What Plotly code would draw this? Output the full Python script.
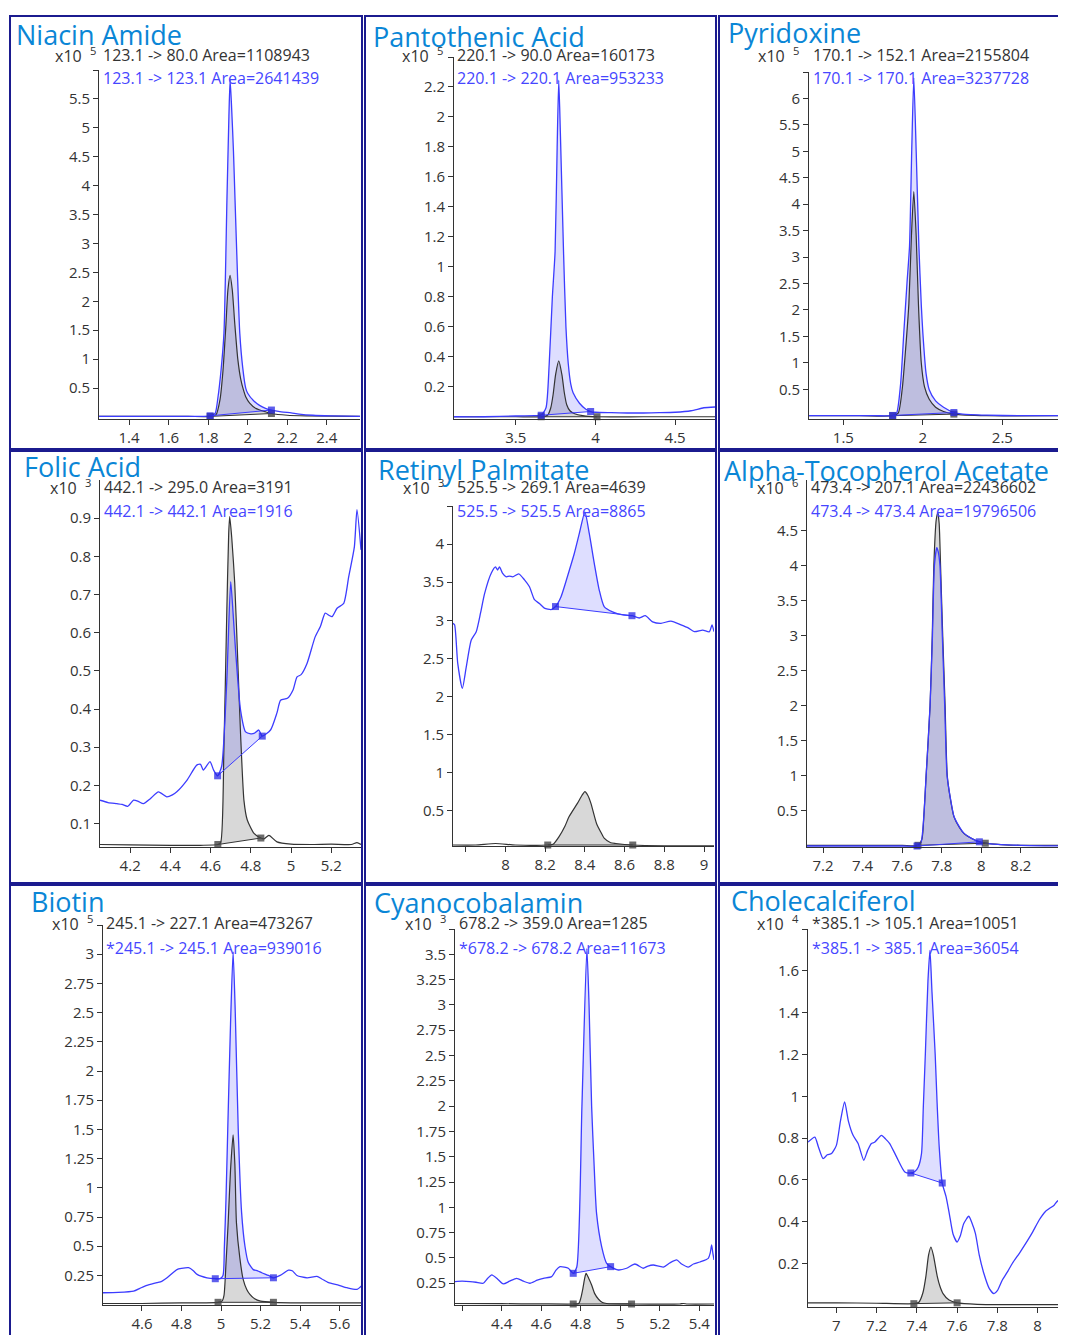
import plotly.graph_objects as go

W, H = 1066, 1335
OFF = 8  # the page body adds an 8px margin; figure is shifted to compensate
FW, FH = W - OFF, H - OFF

# ------------------------------------------------------------------ data
TITLES = ["Niacin Amide", "Pantothenic Acid", "Pyridoxine",
          "Folic Acid", "Retinyl Palmitate", "Alpha-Tocopherol Acetate",
          "Biotin", "Cyanocobalamin", "Cholecalciferol"]
QUAL_LABELS = ["123.1 -> 80.0 Area=1108943", "220.1 -> 90.0 Area=160173",
               "170.1 -> 152.1 Area=2155804", "442.1 -> 295.0 Area=3191",
               "525.5 -> 269.1 Area=4639", "473.4 -> 207.1 Area=22436602",
               "245.1 -> 227.1 Area=473267", "678.2 -> 359.0 Area=1285",
               "*385.1 -> 105.1 Area=10051"]
QUANT_LABELS = ["123.1 -> 123.1 Area=2641439", "220.1 -> 220.1 Area=953233",
                "170.1 -> 170.1 Area=3237728", "442.1 -> 442.1 Area=1916",
                "525.5 -> 525.5 Area=8865", "473.4 -> 473.4 Area=19796506",
                "*245.1 -> 245.1 Area=939016", "*678.2 -> 678.2 Area=11673",
                "*385.1 -> 385.1 Area=36054"]
EXPONENTS = [5, 5, 5, 3, 3, 6, 5, 3, 4]

# Niacin Amide (x10^5)
NIACIN_BLUE_X = [1.248, 1.40, 1.60, 1.75, 1.81, 1.835, 1.85, 1.865, 1.88, 1.895, 1.905, 1.911, 1.918, 1.928, 1.936, 1.948, 1.96, 1.975, 1.99, 2.0, 2.03, 2.06, 2.09, 2.12, 2.17, 2.22, 2.26, 2.33, 2.42, 2.568]
NIACIN_BLUE_Y = [0.01, 0.01, 0.01, 0.01, 0.02, 0.06, 0.35, 0.8, 1.45, 3.75, 5.2, 5.83, 5.4, 4.6, 3.75, 2.5, 1.45, 0.85, 0.5, 0.41, 0.28, 0.2, 0.15, 0.12, 0.09, 0.07, 0.05, 0.03, 0.02, 0.01]
NIACIN_BLACK_X = [1.248, 1.50, 1.70, 1.81, 1.84, 1.86, 1.875, 1.89, 1.90, 1.911, 1.922, 1.935, 1.95, 1.965, 1.98, 1.99, 2.01, 2.04, 2.07, 2.09, 2.12, 2.2, 2.3, 2.568]
NIACIN_BLACK_Y = [0.01, 0.01, 0.01, 0.01, 0.04, 0.3, 0.8, 1.6, 2.2, 2.45, 2.2, 1.6, 1.0, 0.65, 0.45, 0.35, 0.24, 0.15, 0.11, 0.09, 0.06, 0.03, 0.02, 0.01]
NIACIN_BLUE_INT = [1.81, 2.12]
NIACIN_BLACK_INT = [1.81, 2.12]

# Pantothenic Acid (x10^5)
PANTO_BLUE_X = [3.113, 3.3, 3.5, 3.62, 3.66, 3.69, 3.71, 3.73, 3.747, 3.76, 3.77, 3.78, 3.80, 3.815, 3.83, 3.845, 3.86, 3.9, 3.94, 3.97, 4.0, 4.1, 4.2, 4.3, 4.4, 4.5, 4.6, 4.68, 4.75]
PANTO_BLUE_Y = [0.0, 0.0, 0.005, 0.008, 0.01, 0.06, 0.35, 0.8, 1.1, 1.8, 2.245, 1.9, 1.1, 0.6, 0.35, 0.22, 0.16, 0.09, 0.05, 0.035, 0.03, 0.027, 0.025, 0.025, 0.027, 0.03, 0.04, 0.06, 0.065]
PANTO_BLACK_X = [3.113, 3.5, 3.66, 3.70, 3.72, 3.735, 3.75, 3.77, 3.79, 3.805, 3.82, 3.84, 3.87, 3.92, 4.01, 4.3, 4.75]
PANTO_BLACK_Y = [0.0, 0.0, 0.0, 0.01, 0.06, 0.15, 0.28, 0.373, 0.28, 0.16, 0.08, 0.04, 0.02, 0.008, 0.0, 0.0, 0.0]
PANTO_BLUE_INT = [3.66, 3.97]
PANTO_BLACK_INT = [3.66, 4.01]

# Pyridoxine (x10^5)
PYR_BLUE_X = [1.284, 1.5, 1.7, 1.81, 1.835, 1.86, 1.88, 1.90, 1.916, 1.93, 1.943, 1.958, 1.975, 1.99, 2.0, 2.02, 2.04, 2.08, 2.13, 2.195, 2.25, 2.4, 2.6, 2.9]
PYR_BLUE_Y = [0.0, 0.0, 0.0, 0.005, 0.05, 0.6, 1.56, 2.5, 3.2, 5.03, 6.39, 5.0, 3.2, 2.1, 1.56, 0.8, 0.49, 0.28, 0.16, 0.06, 0.03, 0.01, 0.0, 0.0]
PYR_BLACK_X = [1.284, 1.6, 1.81, 1.845, 1.87, 1.89, 1.912, 1.928, 1.943, 1.958, 1.972, 1.99, 2.01, 2.04, 2.08, 2.13, 2.195, 2.4, 2.9]
PYR_BLACK_Y = [0.0, 0.0, 0.0, 0.05, 0.5, 1.2, 2.12, 3.4, 4.24, 3.4, 2.12, 1.0, 0.55, 0.31, 0.16, 0.08, 0.03, 0.0, 0.0]
PYR_BLUE_INT = [1.81, 2.195]
PYR_BLACK_INT = [1.81, 2.195]

# Folic Acid (x10^3)
FOLIC_BLUE_X = [4.05, 4.09, 4.134, 4.16, 4.188, 4.217, 4.24, 4.266, 4.30, 4.341, 4.382, 4.41, 4.432, 4.482, 4.531, 4.55, 4.564, 4.597, 4.615, 4.635, 4.655, 4.68, 4.70, 4.712, 4.724, 4.749, 4.774, 4.80, 4.816, 4.84, 4.857, 4.898, 4.93, 4.948, 4.982, 5.01, 5.03, 5.05, 5.08, 5.12, 5.146, 5.17, 5.19, 5.204, 5.229, 5.262, 5.287, 5.315, 5.328, 5.348]
FOLIC_BLUE_Y = [0.161, 0.155, 0.152, 0.150, 0.145, 0.161, 0.158, 0.152, 0.165, 0.183, 0.170, 0.175, 0.183, 0.213, 0.253, 0.255, 0.240, 0.262, 0.240, 0.225, 0.250, 0.467, 0.734, 0.650, 0.555, 0.397, 0.340, 0.335, 0.336, 0.345, 0.329, 0.345, 0.390, 0.423, 0.428, 0.450, 0.484, 0.490, 0.520, 0.589, 0.616, 0.651, 0.645, 0.642, 0.664, 0.677, 0.747, 0.825, 0.922, 0.817]
FOLIC_BLACK_X = [4.05, 4.2, 4.4, 4.55, 4.636, 4.65, 4.666, 4.68, 4.69, 4.695, 4.705, 4.72, 4.737, 4.749, 4.766, 4.782, 4.816, 4.85, 4.866, 4.89, 4.93, 5.0, 5.1, 5.2, 5.3, 5.328, 5.348]
FOLIC_BLACK_Y = [0.045, 0.044, 0.043, 0.043, 0.045, 0.05, 0.29, 0.64, 0.86, 0.904, 0.85, 0.73, 0.5, 0.336, 0.16, 0.11, 0.074, 0.062, 0.06, 0.069, 0.052, 0.046, 0.045, 0.046, 0.045, 0.05, 0.045]
FOLIC_BLUE_INT = [4.635, 4.857]
FOLIC_BLACK_INT = [4.636, 4.85]

# Retinyl Palmitate (x10^3)
RET_BLUE_X = [7.736, 7.744, 7.76, 7.783, 7.803, 7.828, 7.853, 7.875, 7.895, 7.929, 7.95, 7.96, 7.97, 7.985, 8.004, 8.02, 8.037, 8.067, 8.096, 8.121, 8.146, 8.171, 8.196, 8.23, 8.252, 8.28, 8.322, 8.347, 8.372, 8.40, 8.422, 8.447, 8.472, 8.497, 8.539, 8.59, 8.637, 8.674, 8.704, 8.741, 8.783, 8.833, 8.884, 8.92, 8.951, 8.993, 9.027, 9.04, 9.05]
RET_BLUE_Y = [2.96, 2.94, 2.43, 2.106, 2.39, 2.74, 2.85, 3.1, 3.35, 3.62, 3.70, 3.66, 3.70, 3.62, 3.57, 3.58, 3.57, 3.61, 3.53, 3.44, 3.27, 3.22, 3.16, 3.14, 3.18, 3.31, 3.66, 3.88, 4.14, 4.42, 4.14, 3.75, 3.40, 3.18, 3.11, 3.07, 3.06, 3.03, 3.06, 2.98, 2.96, 2.99, 2.94, 2.90, 2.85, 2.87, 2.85, 2.94, 2.85]
RET_BLACK_X = [7.736, 7.85, 7.95, 8.05, 8.213, 8.24, 8.27, 8.30, 8.32, 8.363, 8.385, 8.40, 8.415, 8.43, 8.459, 8.48, 8.497, 8.53, 8.556, 8.641, 8.8, 9.05]
RET_BLACK_Y = [0.05, 0.05, 0.07, 0.05, 0.05, 0.06, 0.16, 0.30, 0.42, 0.60, 0.70, 0.75, 0.70, 0.60, 0.33, 0.22, 0.14, 0.08, 0.07, 0.05, 0.04, 0.04]
RET_BLUE_INT = [8.252, 8.637]
RET_BLACK_INT = [8.213, 8.641]

# Alpha-Tocopherol Acetate (x10^6)
ALPHA_BLUE_X = [7.119, 7.4, 7.6, 7.675, 7.695, 7.71, 7.721, 7.741, 7.753, 7.763, 7.775, 7.782, 7.791, 7.803, 7.815, 7.827, 7.845, 7.862, 7.89, 7.913, 7.95, 7.99, 8.05, 8.2, 8.428]
ALPHA_BLUE_Y = [0.0, 0.0, 0.0, 0.0, 0.05, 0.45, 1.0, 2.0, 3.0, 4.0, 4.255, 4.2, 4.0, 3.0, 2.0, 1.0, 0.66, 0.42, 0.27, 0.18, 0.11, 0.06, 0.03, 0.01, 0.0]
ALPHA_BLACK_X = [7.119, 7.4, 7.6, 7.68, 7.70, 7.71, 7.721, 7.741, 7.752, 7.76, 7.772, 7.78, 7.787, 7.794, 7.805, 7.817, 7.828, 7.845, 7.862, 7.89, 7.913, 7.95, 7.98, 8.02, 8.1, 8.2, 8.428]
ALPHA_BLACK_Y = [0.01, 0.01, 0.01, 0.01, 0.1, 0.45, 1.0, 2.0, 3.0, 4.0, 4.65, 4.755, 4.6, 4.0, 3.0, 2.0, 1.0, 0.65, 0.415, 0.26, 0.177, 0.11, 0.072, 0.04, 0.02, 0.01, 0.01]
ALPHA_BLUE_INT = [7.675, 7.99]
ALPHA_BLACK_INT = [7.68, 8.02]

# Biotin (x10^5)
BIOTIN_BLUE_X = [4.403, 4.48, 4.558, 4.59, 4.625, 4.676, 4.70, 4.727, 4.777, 4.80, 4.836, 4.86, 4.879, 4.929, 4.971, 4.995, 5.01, 5.017, 5.025, 5.034, 5.048, 5.061, 5.072, 5.087, 5.104, 5.121, 5.138, 5.163, 5.185, 5.206, 5.24, 5.265, 5.299, 5.341, 5.36, 5.384, 5.435, 5.485, 5.51, 5.544, 5.59, 5.637, 5.688, 5.713]
BIOTIN_BLUE_Y = [0.102, 0.105, 0.116, 0.14, 0.165, 0.188, 0.2, 0.23, 0.30, 0.31, 0.316, 0.29, 0.259, 0.23, 0.222, 0.222, 0.25, 0.5, 0.9, 1.5, 2.4, 3.02, 2.5, 1.5, 0.79, 0.5, 0.36, 0.30, 0.29, 0.273, 0.25, 0.23, 0.25, 0.295, 0.29, 0.25, 0.23, 0.242, 0.22, 0.188, 0.17, 0.145, 0.131, 0.165]
BIOTIN_BLACK_X = [4.403, 4.6, 4.8, 4.985, 5.005, 5.015, 5.025, 5.036, 5.048, 5.061, 5.07, 5.078, 5.095, 5.112, 5.13, 5.146, 5.17, 5.2, 5.265, 5.4, 5.6, 5.713]
BIOTIN_BLACK_Y = [0.01, 0.01, 0.015, 0.02, 0.03, 0.08, 0.35, 0.7, 1.15, 1.454, 1.2, 0.7, 0.4, 0.216, 0.13, 0.088, 0.05, 0.03, 0.02, 0.015, 0.015, 0.015]
BIOTIN_BLUE_INT = [4.971, 5.265]
BIOTIN_BLACK_INT = [4.985, 5.265]

# Cyanocobalamin (x10^3)
CYANO_BLUE_X = [4.164, 4.20, 4.24, 4.27, 4.307, 4.33, 4.35, 4.38, 4.408, 4.44, 4.476, 4.51, 4.543, 4.58, 4.611, 4.653, 4.675, 4.695, 4.717, 4.737, 4.762, 4.78, 4.806, 4.831, 4.842, 4.855, 4.868, 4.88, 4.906, 4.931, 4.951, 4.99, 5.032, 5.074, 5.116, 5.14, 5.167, 5.218, 5.25, 5.285, 5.31, 5.344, 5.37, 5.403, 5.445, 5.455, 5.462, 5.468, 5.474]
CYANO_BLUE_Y = [0.266, 0.27, 0.266, 0.26, 0.25, 0.30, 0.332, 0.29, 0.243, 0.27, 0.299, 0.27, 0.25, 0.28, 0.299, 0.315, 0.38, 0.414, 0.41, 0.398, 0.348, 0.41, 2.0, 3.557, 3.0, 2.0, 1.4, 0.94, 0.61, 0.447, 0.414, 0.381, 0.398, 0.44, 0.398, 0.42, 0.43, 0.41, 0.45, 0.48, 0.44, 0.41, 0.44, 0.46, 0.496, 0.55, 0.628, 0.55, 0.48]
CYANO_BLACK_X = [4.164, 4.4, 4.6, 4.762, 4.79, 4.80, 4.811, 4.82, 4.827, 4.84, 4.855, 4.87, 4.89, 4.91, 4.931, 5.057, 5.3, 5.32, 5.34, 5.474]
CYANO_BLACK_Y = [0.05, 0.048, 0.046, 0.045, 0.05, 0.1, 0.2, 0.3, 0.348, 0.3, 0.233, 0.15, 0.092, 0.06, 0.05, 0.045, 0.045, 0.05, 0.045, 0.045]
CYANO_BLUE_INT = [4.762, 4.951]
CYANO_BLACK_INT = [4.762, 5.057]

# Cholecalciferol (x10^4)
CHOLE_BLUE_X = [6.859, 6.893, 6.91, 6.934, 6.955, 6.976, 7.0, 7.02, 7.041, 7.06, 7.083, 7.108, 7.136, 7.155, 7.174, 7.19, 7.224, 7.245, 7.265, 7.299, 7.34, 7.37, 7.39, 7.407, 7.423, 7.432, 7.442, 7.455, 7.465, 7.475, 7.491, 7.50, 7.511, 7.526, 7.545, 7.561, 7.58, 7.6, 7.615, 7.633, 7.658, 7.675, 7.691, 7.71, 7.733, 7.76, 7.783, 7.80, 7.824, 7.85, 7.874, 7.91, 7.941, 7.975, 8.007, 8.04, 8.082, 8.10, 8.123, 8.13, 8.141]
CHOLE_BLUE_Y = [0.781, 0.805, 0.76, 0.702, 0.72, 0.726, 0.765, 0.88, 0.973, 0.88, 0.813, 0.774, 0.694, 0.74, 0.774, 0.78, 0.813, 0.795, 0.774, 0.71, 0.638, 0.633, 0.64, 0.662, 0.726, 0.95, 1.2, 1.55, 1.698, 1.5, 1.2, 0.98, 0.758, 0.585, 0.52, 0.439, 0.34, 0.303, 0.33, 0.391, 0.426, 0.39, 0.343, 0.24, 0.152, 0.08, 0.056, 0.07, 0.12, 0.16, 0.2, 0.25, 0.296, 0.35, 0.407, 0.45, 0.479, 0.5, 0.503, 0.49, 0.511]
CHOLE_BLACK_X = [6.859, 7.0, 7.2, 7.385, 7.41, 7.43, 7.445, 7.458, 7.47, 7.482, 7.501, 7.515, 7.53, 7.56, 7.6, 7.7, 7.9, 8.141]
CHOLE_BLACK_Y = [0.012, 0.012, 0.01, 0.008, 0.015, 0.06, 0.14, 0.24, 0.279, 0.24, 0.14, 0.09, 0.056, 0.025, 0.012, 0.005, 0.003, 0.003]
CHOLE_BLUE_INT = [7.37, 7.526]
CHOLE_BLACK_INT = [7.385, 7.6]

# tick values
X_TICKS = [[1.4, 1.6, 1.8, 2, 2.2, 2.4], [3.5, 4, 4.5], [1.5, 2, 2.5],
           [4.2, 4.4, 4.6, 4.8, 5, 5.2], [8, 8.2, 8.4, 8.6, 8.8, 9],
           [7.2, 7.4, 7.6, 7.8, 8, 8.2], [4.6, 4.8, 5, 5.2, 5.4, 5.6],
           [4.4, 4.6, 4.8, 5, 5.2, 5.4], [7, 7.2, 7.4, 7.6, 7.8, 8]]
X_TICKS_BLANK = [[], [], [], [], [7.8], [8.4], [], [4.2], []]
Y_TICKS = [[0.5, 1, 1.5, 2, 2.5, 3, 3.5, 4, 4.5, 5, 5.5],
           [0.2, 0.4, 0.6, 0.8, 1, 1.2, 1.4, 1.6, 1.8, 2, 2.2],
           [0.5, 1, 1.5, 2, 2.5, 3, 3.5, 4, 4.5, 5, 5.5, 6],
           [0.1, 0.2, 0.3, 0.4, 0.5, 0.6, 0.7, 0.8, 0.9],
           [0.5, 1, 1.5, 2, 2.5, 3, 3.5, 4],
           [0.5, 1, 1.5, 2, 2.5, 3, 3.5, 4, 4.5],
           [0.25, 0.5, 0.75, 1, 1.25, 1.5, 1.75, 2, 2.25, 2.5, 2.75, 3],
           [0.25, 0.5, 0.75, 1, 1.25, 1.5, 1.75, 2, 2.25, 2.5, 2.75, 3, 3.25, 3.5],
           [0.2, 0.4, 0.6, 0.8, 1, 1.2, 1.4, 1.6]]
Y_TICKS_BLANK = [[6], [2.4], [6.5], [], [4.5], [], [3.25], [3.75], [1.8]]

SERIES = [
    (NIACIN_BLUE_X, NIACIN_BLUE_Y, NIACIN_BLUE_INT, NIACIN_BLACK_X, NIACIN_BLACK_Y, NIACIN_BLACK_INT),
    (PANTO_BLUE_X, PANTO_BLUE_Y, PANTO_BLUE_INT, PANTO_BLACK_X, PANTO_BLACK_Y, PANTO_BLACK_INT),
    (PYR_BLUE_X, PYR_BLUE_Y, PYR_BLUE_INT, PYR_BLACK_X, PYR_BLACK_Y, PYR_BLACK_INT),
    (FOLIC_BLUE_X, FOLIC_BLUE_Y, FOLIC_BLUE_INT, FOLIC_BLACK_X, FOLIC_BLACK_Y, FOLIC_BLACK_INT),
    (RET_BLUE_X, RET_BLUE_Y, RET_BLUE_INT, RET_BLACK_X, RET_BLACK_Y, RET_BLACK_INT),
    (ALPHA_BLUE_X, ALPHA_BLUE_Y, ALPHA_BLUE_INT, ALPHA_BLACK_X, ALPHA_BLACK_Y, ALPHA_BLACK_INT),
    (BIOTIN_BLUE_X, BIOTIN_BLUE_Y, BIOTIN_BLUE_INT, BIOTIN_BLACK_X, BIOTIN_BLACK_Y, BIOTIN_BLACK_INT),
    (CYANO_BLUE_X, CYANO_BLUE_Y, CYANO_BLUE_INT, CYANO_BLACK_X, CYANO_BLACK_Y, CYANO_BLACK_INT),
    (CHOLE_BLUE_X, CHOLE_BLUE_Y, CHOLE_BLUE_INT, CHOLE_BLACK_X, CHOLE_BLACK_Y, CHOLE_BLACK_INT),
]

# ------------------------------------------------------------------ layout config (page pixels)
PLOT_BOX = [(99, 360, 70, 419), (454, 715, 57, 419), (809, 1066, 72, 419),
            (100, 361, 480, 847), (453, 714, 506, 846), (807, 1066, 480, 847),
            (103, 362, 925, 1305), (455, 714, 929, 1305), (808, 1066, 929, 1307)]
X_RANGES = [[1.248, 2.568], [3.113, 4.75], [1.284, 2.90],
            [4.05, 5.348], [7.736, 9.05], [7.119, 8.428],
            [4.403, 5.713], [4.164, 5.474], [6.859, 8.141]]
Y_RANGES = [[-0.035, 6.0], [-0.015, 2.4], [-0.0625, 6.5],
            [0.0385, 1.0], [0.037, 4.5], [-0.014, 5.22],
            [-0.003, 3.25], [0.035, 3.75], [-0.008, 1.8]]
TITLE_POS = [(14, 34), (371, 37), (726, 32), (22, 466), (376, 469), (722, 471),
             (29, 901), (372, 902), (729, 900)]
LABEL_X = [101, 455, 811, 102, 455, 809, 104, 457, 810]
LABEL_Y = [(55, 78), (55, 78), (55, 78), (487, 511), (487, 511), (487, 511),
           (923, 948), (923, 948), (923, 948)]
EXP_POS = [(98, 55), (445, 55), (801, 55), (93, 487), (446, 487), (800, 487),
           (95, 923), (448, 923), (801, 923)]
COLS = [(10, 362), (365, 716), (719, 1074)]
ROWS = [(16, 449), (451, 883), (885, 1345)]

FONT = "Open Sans"
BLUE_LINE = "#3c3cff"
BLACK_LINE = "#333333"
BLUE_FILL = "rgba(90,90,255,0.20)"
GRAY_FILL = "rgba(110,110,110,0.27)"
BLUE_MARK = "rgba(40,40,230,0.75)"
GRAY_MARK = "rgba(70,70,70,0.8)"
TITLE_COLOR = "#0a86d6"
BORDER = "#1b1b8f"
SMOOTH = 0.6


def fx(p):
    return (p - OFF) / FW


def fy(p):
    return 1 - (p - OFF) / FH


def fmt(v):
    return "%g" % v


def segment(xs, ys, a, b):
    sx, sy = [], []
    for x, y in zip(xs, ys):
        if a - 1e-9 <= x <= b + 1e-9:
            sx.append(x)
            sy.append(y)
    return sx, sy


def at(xs, ys, v):
    for x, y in zip(xs, ys):
        if abs(x - v) < 1e-9:
            return y
    return None


fig = go.Figure()

for i, (bx, by, bint, kx, ky, kint) in enumerate(SERIES):
    n = i + 1
    xa = "x" if n == 1 else "x%d" % n
    ya = "y" if n == 1 else "y%d" % n
    common = dict(xaxis=xa, yaxis=ya, hoverinfo="skip", showlegend=False)

    for xs, ys, it, fc in [(kx, ky, kint, GRAY_FILL), (bx, by, bint, BLUE_FILL)]:
        sx, sy = segment(xs, ys, it[0], it[1])
        fig.add_trace(go.Scatter(x=sx, y=sy, mode="lines", fill="toself",
                                 fillcolor=fc,
                                 line=dict(width=0, shape="spline", smoothing=SMOOTH),
                                 **common))
    fig.add_trace(go.Scatter(x=kx, y=ky, mode="lines",
                             line=dict(color=BLACK_LINE, width=1.2, shape="spline",
                                       smoothing=SMOOTH), **common))
    fig.add_trace(go.Scatter(x=bx, y=by, mode="lines",
                             line=dict(color=BLUE_LINE, width=1.3, shape="spline",
                                       smoothing=SMOOTH), **common))
    for xs, ys, it, lc, mc in [(kx, ky, kint, BLACK_LINE, GRAY_MARK),
                               (bx, by, bint, BLUE_LINE, BLUE_MARK)]:
        px_ = [it[0], it[1]]
        py_ = [at(xs, ys, it[0]), at(xs, ys, it[1])]
        fig.add_trace(go.Scatter(x=px_, y=py_, mode="lines",
                                 line=dict(color=lc, width=1), **common))
        fig.add_trace(go.Scatter(x=px_, y=py_, mode="markers", cliponaxis=False,
                                 marker=dict(symbol="square", size=7, color=mc,
                                             line=dict(width=0)), **common))

axis_common = dict(showgrid=False, zeroline=False, showline=True,
                   linecolor="#333333", linewidth=1, ticks="outside", ticklen=5,
                   tickwidth=1, tickcolor="#333333", tickmode="array",
                   tickfont=dict(family=FONT, size=15, color="#333333"),
                   automargin=False, fixedrange=True)

annotations = []
shapes = []
for i in range(9):
    n = i + 1
    l, r, t, b = PLOT_BOX[i]
    xk = "xaxis" if n == 1 else "xaxis%d" % n
    yk = "yaxis" if n == 1 else "yaxis%d" % n
    xa = "x" if n == 1 else "x%d" % n
    ya = "y" if n == 1 else "y%d" % n
    xt = X_TICKS[i] + X_TICKS_BLANK[i]
    xtt = [fmt(v) for v in X_TICKS[i]] + [" " for _ in X_TICKS_BLANK[i]]
    yt = Y_TICKS[i] + Y_TICKS_BLANK[i]
    ytt = [fmt(v) for v in Y_TICKS[i]] + [" " for _ in Y_TICKS_BLANK[i]]
    fig.layout[xk] = dict(domain=[fx(l), min(1.0, fx(r))], range=X_RANGES[i], anchor=ya,
                          tickvals=xt, ticktext=xtt, **axis_common)
    fig.layout[yk] = dict(domain=[max(0.0, fy(b)), fy(t)], range=Y_RANGES[i], anchor=xa,
                          tickvals=yt, ticktext=ytt, **axis_common)

    tx, ty = TITLE_POS[i]
    annotations.append(dict(x=fx(tx), y=fy(ty), xref="paper", yref="paper",
                            xanchor="left", yanchor="middle", showarrow=False,
                            text=TITLES[i],
                            font=dict(family=FONT, size=27, color=TITLE_COLOR)))
    y1, y2 = LABEL_Y[i]
    annotations.append(dict(x=fx(LABEL_X[i]), y=fy(y1), xref="paper", yref="paper",
                            xanchor="left", yanchor="middle", showarrow=False,
                            text=QUAL_LABELS[i].replace(">", "&gt;"),
                            font=dict(family=FONT, size=16, color="#333333")))
    annotations.append(dict(x=fx(LABEL_X[i]), y=fy(y2), xref="paper", yref="paper",
                            xanchor="left", yanchor="middle", showarrow=False,
                            text=QUANT_LABELS[i].replace(">", "&gt;"),
                            font=dict(family=FONT, size=16, color="#4646ff")))
    ex, ey = EXP_POS[i]
    annotations.append(dict(x=fx(ex), y=fy(ey), xref="paper", yref="paper",
                            xanchor="right", yanchor="middle", showarrow=False,
                            text="x10&nbsp;&nbsp;<sup>%d</sup>" % EXPONENTS[i],
                            font=dict(family=FONT, size=16, color="#333333")))

for (c0, c1) in COLS:
    for (r0, r1) in ROWS:
        shapes.append(dict(type="rect", xref="paper", yref="paper",
                           x0=fx(c0), x1=fx(c1), y0=fy(r1), y1=fy(r0),
                           line=dict(color=BORDER, width=2), layer="above"))

fig.update_layout(width=FW, height=FH,
                  margin=dict(l=0, r=0, t=0, b=0, pad=0, autoexpand=False),
                  paper_bgcolor="white", plot_bgcolor="white",
                  showlegend=False, annotations=annotations, shapes=shapes,
                  font=dict(family=FONT))

fig.write_html("out.html")
